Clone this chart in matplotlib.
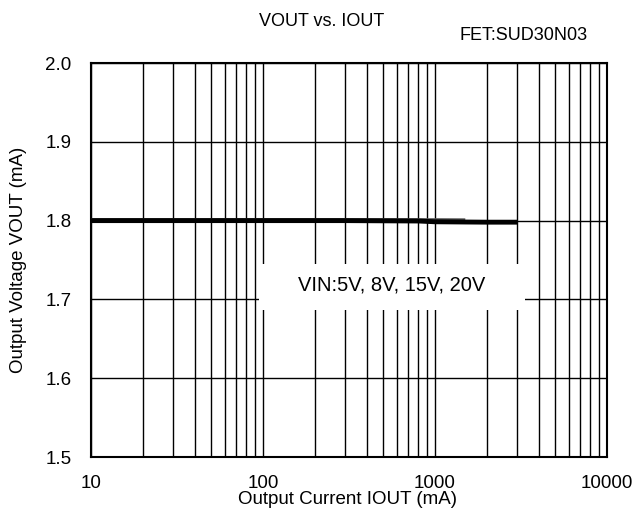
import matplotlib
matplotlib.use("Agg")
import matplotlib.pyplot as plt
from matplotlib.ticker import NullFormatter, LogLocator
from matplotlib.patches import Rectangle

plt.rcParams['font.family'] = ['Liberation Sans', 'DejaVu Sans']

# data
iout_a = [10, 30, 100, 300, 800, 1000, 1500]
vout_a = [1.800, 1.800, 1.800, 1.800, 1.8000, 1.8000, 1.7998]
iout_b = [10, 30, 100, 300, 800, 1000, 1500, 2000, 3000]
vout_b = [1.800, 1.800, 1.800, 1.800, 1.7995, 1.7985, 1.7982, 1.798, 1.798]
x_ticks = [10, 100, 1000, 10000]
x_tick_labels = ["10", "100", "1000", "10000"]
y_ticks = [1.5, 1.6, 1.7, 1.8, 1.9, 2.0]
y_tick_labels = ["1.5", "1.6", "1.7", "1.8", "1.9", "2.0"]

W, H = 634, 516
L, R, T, B = 91, 607, 63, 457
fig = plt.figure(figsize=(W/100, H/100), dpi=100)
ax = fig.add_axes([L/W, 1-B/H, (R-L)/W, (B-T)/H])
ax.set_xscale('log')
ax.set_xlim(10, 10000)
ax.set_ylim(1.5, 2.0)

ax.plot(iout_a, vout_a, color='#555555', lw=3.5, solid_capstyle='butt', zorder=3)
ax.plot(iout_b, vout_b, color='black', lw=3.5, solid_capstyle='butt', zorder=4)

ax.set_xticks(x_ticks)
ax.set_xticklabels(x_tick_labels)
ax.xaxis.set_minor_locator(LogLocator(base=10, subs=range(2, 10)))
ax.xaxis.set_minor_formatter(NullFormatter())
ax.set_yticks(y_ticks)
ax.set_yticklabels(y_tick_labels)
ax.grid(True, which='both', axis='x', color='black', lw=1)
ax.grid(True, which='major', axis='y', color='black', lw=1)
ax.tick_params(which='both', length=0, labelsize=13.5)
ax.tick_params(axis='y', pad=14)
ax.tick_params(axis='x', pad=13)
for s in ax.spines.values():
    s.set_linewidth(1.5)

# white label box
ax.add_patch(Rectangle(((259-L)/(R-L), 1-(310-T)/(B-T)), (525-259)/(R-L), (310-264)/(B-T),
                       transform=ax.transAxes, facecolor='white', edgecolor='none', zorder=4.5))
ax.text((392-L)/(R-L), 1-(285-T)/(B-T), "VIN:5V, 8V, 15V, 20V", transform=ax.transAxes,
        ha='center', va='center', fontsize=14.5, zorder=5)

fig.text(322/W, 1-21/H, "VOUT vs. IOUT", ha='center', va='center', fontsize=13)
fig.text(588/W, 1-36/H, "FET:SUD30N03", ha='right', va='center', fontsize=13)
fig.text(347/W, 1-500/H, "Output Current IOUT (mA)", ha='center', va='center', fontsize=13.5)
fig.text(19/W, 1-260/H, "Output Voltage VOUT (mA)", ha='center', va='center',
         rotation=90, fontsize=13.5)

fig.savefig("out.png", dpi=100)
